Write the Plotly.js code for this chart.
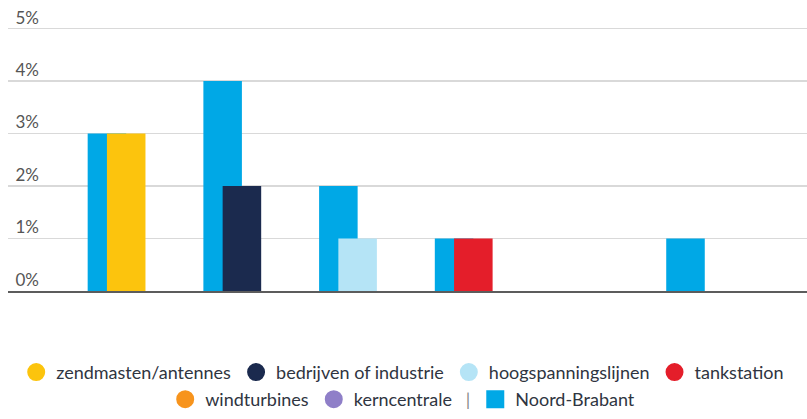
<!DOCTYPE html>
<html>
<head>
<meta charset="utf-8">
<script src="https://cdn.plot.ly/plotly-3.0.1.min.js"></script>
<style>html,body{margin:0;padding:0;background:#fff;}#chart{width:807px;height:419px;}</style>
</head>
<body>
<div id="chart"></div>
<script>
const categories = ['zendmasten/antennes', 'bedrijven of industrie', 'hoogspanningslijnen', 'tankstation', 'windturbines', 'kerncentrale'];
const legendNames = ['zendmasten/antennes', 'bedrijven of industrie', 'hoogspanningslijnen', 'tankstation', 'windturbines', 'kerncentrale&nbsp;&nbsp;&nbsp;<span style="color:#8a8a8a">|</span>'];
const categoryValues = [3, 2, 1, 1, 0, 0];
const noordBrabantValues = [3, 4, 2, 1, 0, 1];
const categoryColors = ['#fcc40d', '#1b2a4e', '#b5e4f6', '#e41e2a', '#f7941d', '#8f7fc8'];
const brabantName = 'Noord-Brabant';
const brabantColor = '#00a8e6';
const yTickVals = [0, 1, 2, 3, 4, 5];
const yTickText = ['0%', '1%', '2%', '3%', '4%', '5%'];
const legendRow = ['legend', 'legend', 'legend', 'legend', 'legend2', 'legend2'];

const barW = 0.333;
const traces = [];
traces.push({
  type: 'bar', x: categories, y: noordBrabantValues, name: brabantName,
  width: barW, offset: -barW / 2, marker: {color: brabantColor, line: {width: 0}},
  showlegend: false, hoverinfo: 'skip'
});
traces.push({
  type: 'bar', x: categories, y: categoryValues, name: 'categorie',
  width: barW, offset: 0, marker: {color: categoryColors, line: {width: 0}},
  showlegend: false, hoverinfo: 'skip'
});
categories.forEach((c, i) => {
  traces.push({
    type: 'scatter', mode: 'markers', x: [null], y: [null], name: legendNames[i],
    marker: {symbol: 'circle', size: 16, color: categoryColors[i], line: {width: 2, color: categoryColors[i]}},
    legend: legendRow[i], hoverinfo: 'skip'
  });
});
traces.push({
  type: 'scatter', mode: 'markers', x: [null], y: [null], name: brabantName,
  marker: {symbol: 'square', size: 16, color: brabantColor, line: {width: 2, color: brabantColor}},
  legend: 'legend2', hoverinfo: 'skip'
});

const legendFont = {family: 'Lato, sans-serif', size: 18, color: '#2f3541'};
const layout = {
  width: 807, height: 419,
  margin: {l: 8, r: 0, t: 27, b: 128},
  paper_bgcolor: '#ffffff', plot_bgcolor: '#ffffff',
  barmode: 'overlay',
  font: {family: 'Lato, sans-serif', size: 17, color: '#555'},
  xaxis: {
    type: 'category', range: [-0.855, 6.05], showticklabels: false, ticks: '',
    showgrid: false, zeroline: false, showline: true, linecolor: '#5c5c5c', linewidth: 2,
    fixedrange: true
  },
  yaxis: {
    range: [0, 5.03], tickmode: 'array', tickvals: yTickVals, ticktext: yTickText, ticks: '',
    ticklabelposition: 'outside', ticklabelshift: -11, ticklabelstandoff: -32,
    showgrid: true, gridcolor: '#d9d9d9', gridwidth: 1.5, zeroline: false,
    showline: false, tickfont: {family: 'Lato, sans-serif', size: 17, color: '#555'},
    fixedrange: true
  },
  legend: {
    orientation: 'h', x: 0.494, xanchor: 'center', y: -0.308, yanchor: 'middle',
    font: legendFont, traceorder: 'normal', itemclick: false, bgcolor: 'rgba(0,0,0,0)'
  },
  legend2: {
    orientation: 'h', x: 0.494, xanchor: 'center', y: -0.411, yanchor: 'middle',
    font: legendFont, traceorder: 'normal', itemclick: false, bgcolor: 'rgba(0,0,0,0)'
  },
  showlegend: true
};
Plotly.newPlot('chart', traces, layout, {displayModeBar: false, staticPlot: true});
</script>
</body>
</html>
